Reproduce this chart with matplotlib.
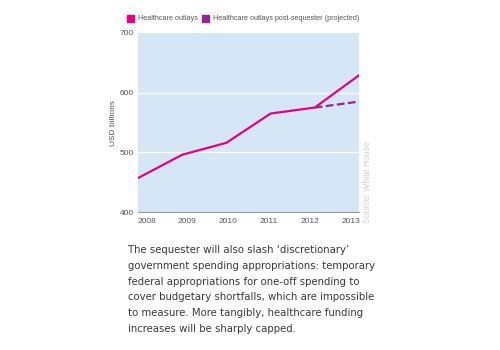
import matplotlib.pyplot as plt
from matplotlib.patches import Rectangle
from matplotlib.transforms import ScaledTranslation

years = [2008, 2009, 2010, 2011, 2012, 2013]
outlays = [457, 496, 516, 565, 575, 629]
proj_years = [2012, 2013]
proj_outlays = [575, 585]
yticks = [400, 500, 600, 700]

pink = '#e6007e'
purple = '#93278f'
bg = '#d5e6f6'
grey = '#555555'

plt.rcParams['font.family'] = ['Liberation Sans', 'DejaVu Sans']

fig = plt.figure(figsize=(5, 3.5), dpi=100)
ax = fig.add_axes([0.276, 0.394, 0.442, 0.512])
ax.set_facecolor(bg)

for v in yticks[1:-1]:
    ax.axhline(v, color='white', lw=1, zorder=1)

ax.plot(years, outlays, color=pink, lw=1.6, zorder=3)
ax.plot(proj_years, proj_outlays, color=purple, lw=1.6, ls=(0, (3.5, 1.5)), zorder=3)

ax.set_xlim(years[0], years[-1])
ax.set_ylim(400, 700)
ax.set_yticks(yticks)
ax.set_xticks(years)
ax.tick_params(length=0, labelsize=6, colors=grey)
ax.tick_params(axis='y', pad=3)
ax.tick_params(axis='x', pad=4)
# year labels sit spread inside the axis ends, like the original
n = len(years) - 1
for k, lab in enumerate(ax.get_xticklabels()):
    dx = 8.5 * (1 - 2 * k / n) / 100
    lab.set_transform(lab.get_transform() + ScaledTranslation(dx, 0, fig.dpi_scale_trans))
for s in ['top', 'right', 'left']:
    ax.spines[s].set_visible(False)
ax.spines['bottom'].set_color('#9a9a9a')
ax.spines['bottom'].set_linewidth(0.8)
ax.set_ylabel('USD billions', fontsize=6, color=grey, labelpad=2)

# legend
fig.patches.append(Rectangle((127 / 500, 1 - 22 / 350), 7 / 500, 7 / 350,
                             transform=fig.transFigure, color=pink))
fig.text(138 / 500, 1 - 18.5 / 350, 'Healthcare outlays', fontsize=5.2,
         color=grey, va='center')
fig.patches.append(Rectangle((202 / 500, 1 - 22 / 350), 7 / 500, 7 / 350,
                             transform=fig.transFigure, color=purple))
fig.text(213 / 500, 1 - 18.5 / 350, 'Healthcare outlays post-sequester (projected)',
         fontsize=5.2, color=grey, va='center')

fig.text(367 / 500, 1 - 182 / 350, 'Source: White House', rotation=90,
         fontsize=6.2, color='#cfcfcf', ha='center', va='center')

para = ("The sequester will also slash \u2018discretionary\u2019\n"
        "government spending appropriations: temporary\n"
        "federal appropriations for one-off spending to\n"
        "cover budgetary shortfalls, which are impossible\n"
        "to measure. More tangibly, healthcare funding\n"
        "increases will be sharply capped.")
fig.text(128 / 500, 1 - 245 / 350, para, fontsize=7.3, color='#383838',
         va='top', ha='left', linespacing=1.72, family=['DejaVu Sans'])

fig.savefig('out.png', dpi=100)
